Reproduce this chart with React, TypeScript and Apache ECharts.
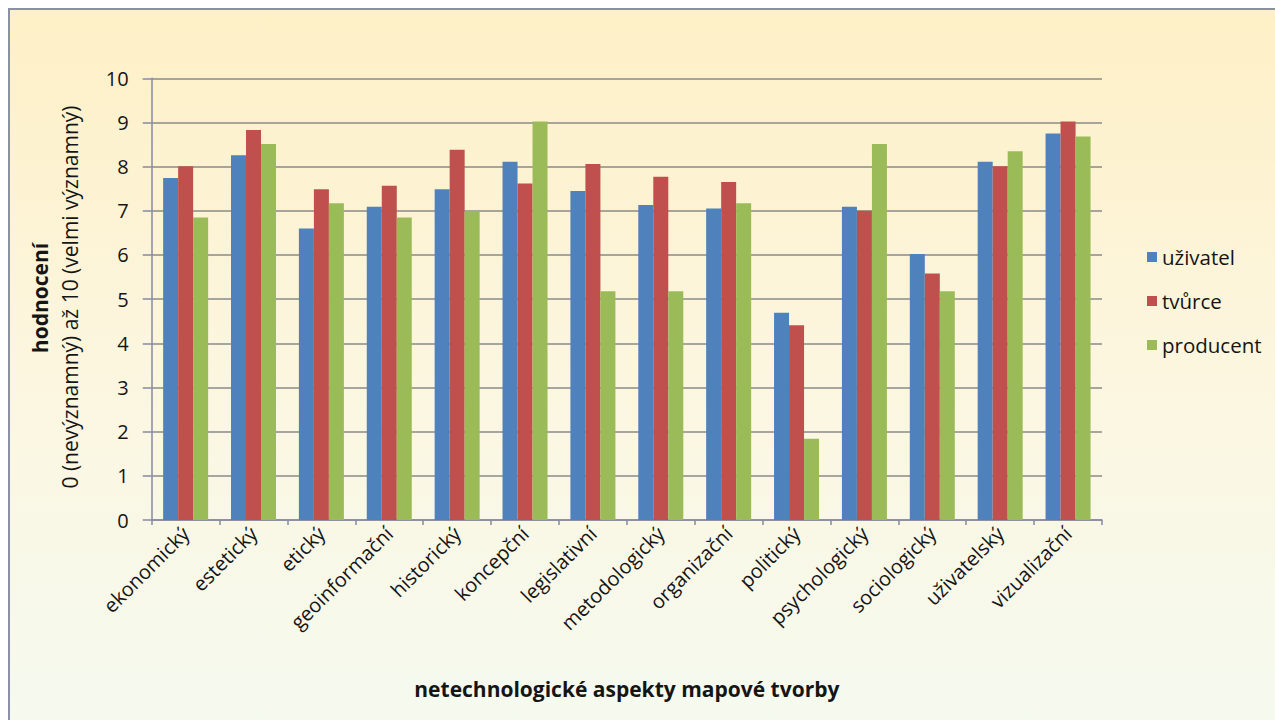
import React, { useEffect, useRef } from "react";
import * as echarts from "echarts";

const categories = [
  "ekonomický",
  "estetický",
  "etický",
  "geoinformační",
  "historický",
  "koncepční",
  "legislativní",
  "metodologický",
  "organizační",
  "politický",
  "psychologický",
  "sociologický",
  "uživatelský",
  "vizualizační",
];

const uzivatel = [7.74, 8.26, 6.6, 7.09, 7.49, 8.11, 7.45, 7.13, 7.05, 4.69, 7.09, 6.02, 8.11, 8.75];
const tvurce = [8.01, 8.83, 7.49, 7.57, 8.38, 7.62, 8.06, 7.77, 7.65, 4.41, 7.0, 5.58, 8.01, 9.02];
const producent = [6.85, 8.51, 7.17, 6.85, 7.0, 9.02, 5.18, 5.18, 7.17, 1.84, 8.51, 5.18, 8.35, 8.68];

const seriesNames = ["uživatel", "tvůrce", "producent"];
const seriesColors = ["#4F81BD", "#C0504D", "#9BBB59"];

const yTitle = "hodnocení";
const ySubtitle = "0 (nevýznamný) až 10 (velmi významný)";
const xTitle = "netechnologické aspekty mapové tvorby";

const FONT = "'Open Sans', 'Noto Sans', sans-serif";
const INK = "#151515";

export default function App() {
  const ref = useRef<HTMLDivElement>(null);

  useEffect(() => {
    if (!ref.current) return;
    const chart = echarts.init(ref.current, undefined, { renderer: "svg" });
    const values = [uzivatel, tvurce, producent];

    chart.setOption({
      animation: false,
      backgroundColor: new echarts.graphic.LinearGradient(0, 0, 0, 1, [
        { offset: 0, color: "#FEF0C6" },
        { offset: 0.5, color: "#FCF6DF" },
        { offset: 1, color: "#F5FAEF" },
      ]),
      textStyle: { fontFamily: FONT },
      grid: { left: 143.7, right: 173, top: 70.3, bottom: 200, containLabel: false },
      legend: {
        orient: "vertical",
        left: 1134,
        top: 231,
        itemWidth: 10,
        itemHeight: 10,
        itemGap: 18,
        icon: "rect",
        textStyle: { fontFamily: FONT, fontSize: 20.5, color: INK, lineHeight: 26 },
        data: seriesNames,
      },
      xAxis: {
        type: "category",
        data: categories,
        name: xTitle,
        nameLocation: "middle",
        nameGap: 158,
        nameTextStyle: { fontFamily: FONT, fontSize: 21, fontWeight: "bold", color: INK },
        axisLine: { lineStyle: { color: "#868AA4", width: 1.5 } },
        axisTick: { show: true, length: 5, lineStyle: { color: "#868AA4", width: 1.5 } },
        axisLabel: {
          rotate: 45,
          margin: 10,
          interval: 0,
          fontFamily: FONT,
          fontSize: 20,
          color: INK,
        },
      },
      yAxis: {
        type: "value",
        min: 0,
        max: 10,
        interval: 1,
        axisLine: { show: true, lineStyle: { color: "#868AA4", width: 1.5 } },
        axisTick: { show: true, length: 9, lineStyle: { color: "#868AA4", width: 1.5 } },
        axisLabel: { margin: 23, fontFamily: FONT, fontSize: 20, color: INK },
        splitLine: { lineStyle: { color: "#8A8A8A", width: 1.5 } },
      },
      graphic: [
        {
          type: "line",
          shape: { x1: 0, y1: 1, x2: 1267, y2: 1 },
          style: { stroke: "#8C90A6", lineWidth: 2 },
          silent: true,
        },
        {
          type: "line",
          shape: { x1: 1, y1: 0, x2: 1, y2: 712 },
          style: { stroke: "#8C90A6", lineWidth: 2 },
          silent: true,
        },
        {
          type: "text",
          x: 32,
          y: 290,
          rotation: Math.PI / 2,
          style: {
            text: yTitle,
            fontFamily: FONT,
            fontSize: 21,
            fontWeight: "bold",
            fill: INK,
            align: "center",
            verticalAlign: "middle",
          },
        },
        {
          type: "text",
          x: 62,
          y: 289,
          rotation: Math.PI / 2,
          style: {
            text: ySubtitle,
            fontFamily: FONT,
            fontSize: 21,
            fill: INK,
            align: "center",
            verticalAlign: "middle",
          },
        },
      ],
      series: seriesNames.map((name, i) => ({
        name,
        type: "bar",
        data: values[i],
        barWidth: 15,
        barGap: "0%",
        itemStyle: { color: seriesColors[i] },
      })),
    });

    return () => chart.dispose();
  }, []);

  return (
    <div
      ref={ref}
      style={{ position: "fixed", left: 8, top: 8, width: 1267, height: 712 }}
    />
  );
}
